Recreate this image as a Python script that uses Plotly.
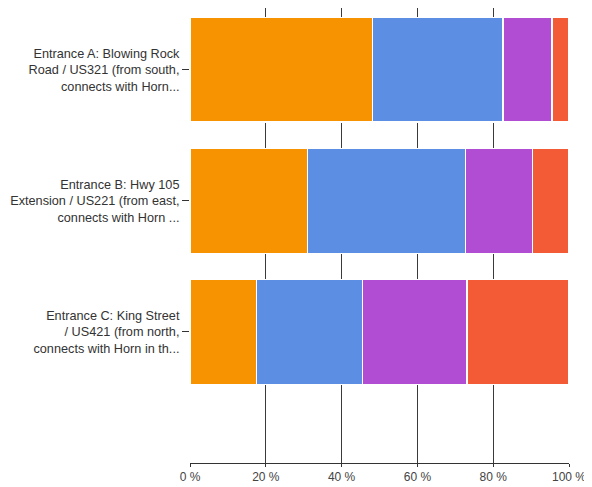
import plotly.graph_objects as go

categories = [
    "Entrance A: Blowing Rock<br>Road / US321 (from south,<br>connects with Horn...",
    "Entrance B: Hwy 105<br>Extension / US221 (from east,<br>connects with Horn ...",
    "Entrance C: King Street<br>/ US421 (from north,<br>connects with Horn in th...",
]
series_names = ["Segment 1", "Segment 2", "Segment 3", "Segment 4"]
series_values = [
    [48.2, 31.1, 17.6],
    [34.4, 41.6, 28.0],
    [12.9, 17.6, 27.5],
    [4.5, 9.7, 26.9],
]
series_colors = ["#F79200", "#5C8EE3", "#B04DD2", "#F25B36"]
x_tick_vals = [0, 20, 40, 60, 80, 100]
x_tick_text = ["0 %", "20 %", "40 %", "60 %", "80 %", "100 %"]

fig = go.Figure()
for name, vals, col in zip(series_names, series_values, series_colors):
    fig.add_trace(go.Bar(
        y=categories, x=vals, name=name, orientation="h",
        marker=dict(color=col, line=dict(color="white", width=1.2)),
        hoverinfo="skip",
    ))

fig.update_layout(
    width=584, height=479,
    barmode="stack", bargap=0.2,
    showlegend=False,
    plot_bgcolor="white", paper_bgcolor="white",
    margin=dict(l=182, r=23, t=0, b=24, autoexpand=False),
    font=dict(family="Liberation Sans, Arial, sans-serif", size=12, color="#333333"),
    xaxis=dict(
        range=[0, 100], tickvals=x_tick_vals, ticktext=x_tick_text,
        showgrid=True, gridcolor="#3a3a3a", gridwidth=1,
        zeroline=False, showline=True, linecolor="#333333", linewidth=1,
        ticks="outside", ticklen=3, tickcolor="#333333",
        tickfont=dict(size=12, color="#444444"), fixedrange=True,
        automargin=False,
    ),
    yaxis=dict(
        type="category", categoryorder="array", categoryarray=categories,
        range=[3.0, -0.47], showgrid=False, zeroline=False, showline=False,
        ticks="outside", ticklen=7, tickcolor="#333333",
        tickfont=dict(size=12.7, color="#333333"), fixedrange=True,
        automargin=False,
    ),
)

fig.write_html("out.html")
